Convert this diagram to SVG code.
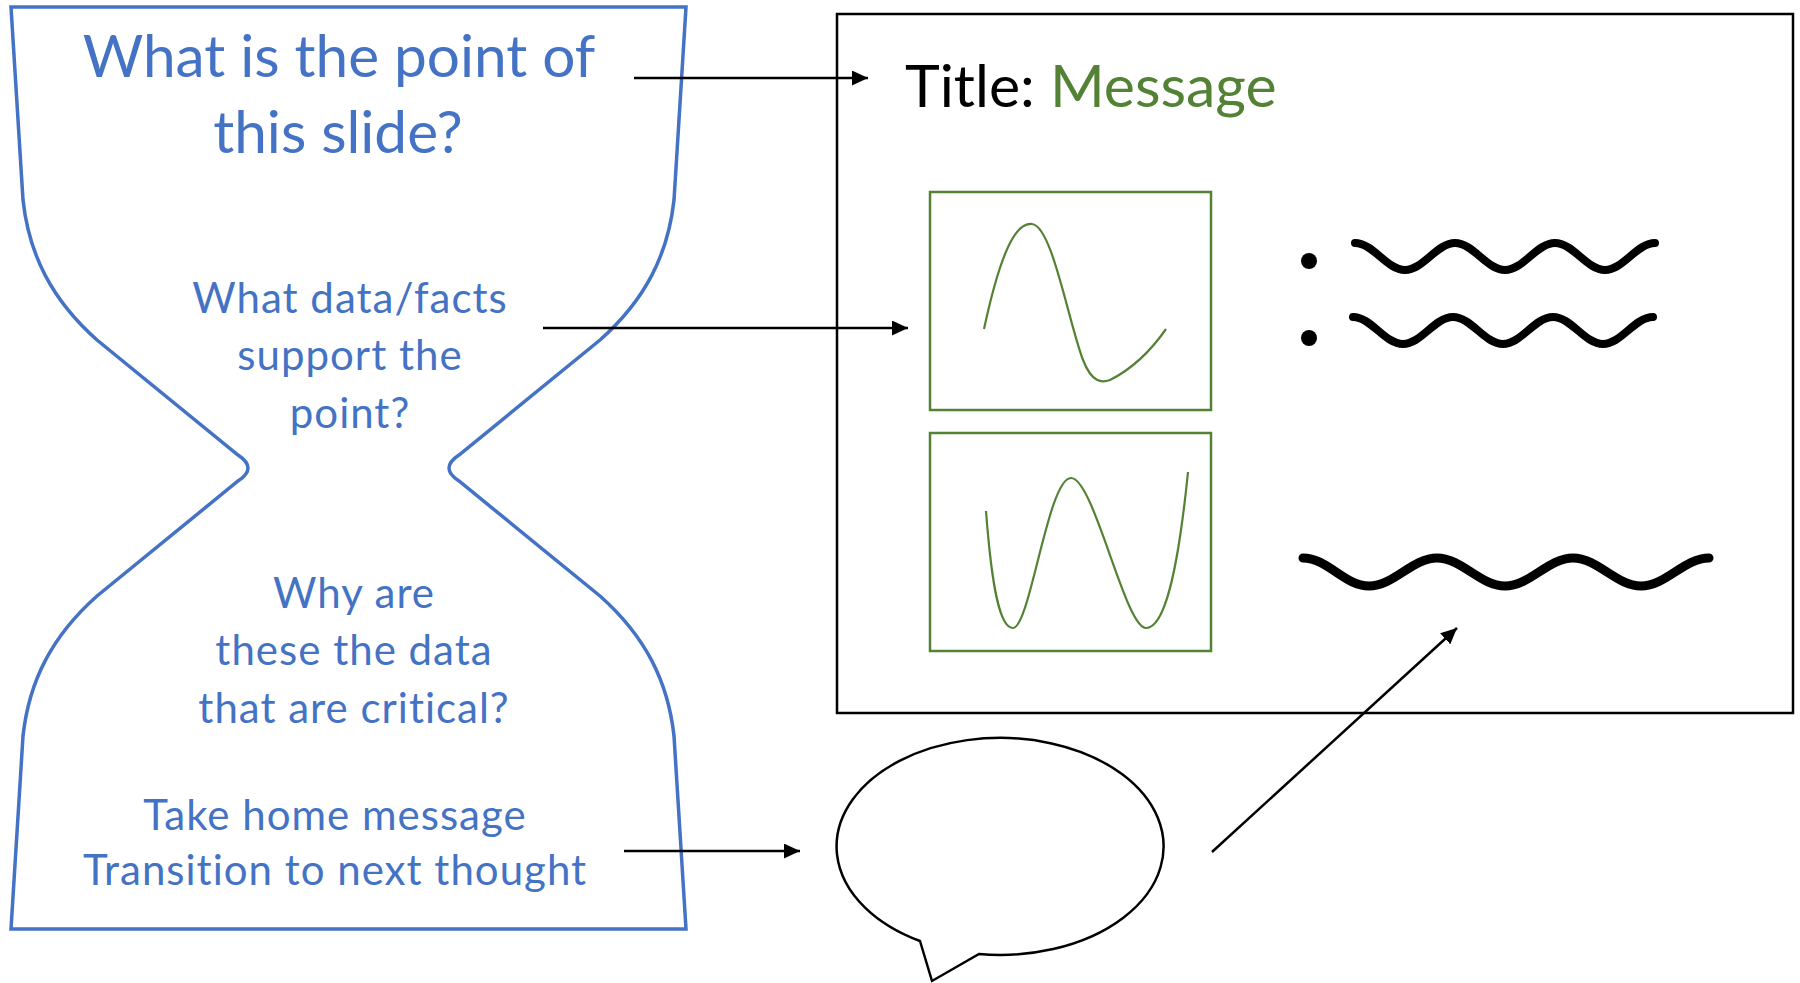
<svg xmlns="http://www.w3.org/2000/svg" width="1800" height="983" viewBox="0 0 1800 983">
  <style>
    .blue { fill: #4472C4; font-family: Lato, "Open Sans", sans-serif; text-anchor: middle; }
    .big { font-size: 58.5px; }
    .small { font-size: 42px; letter-spacing: 1px; }
    .title { font-family: Lato, "Open Sans", sans-serif; font-size: 59px; }
    .conn { stroke: #000; stroke-width: 2.5; fill: none; }
    .gbox { fill: none; stroke: #548235; stroke-width: 2.5; }
    .gcurve { fill: none; stroke: #548235; stroke-width: 2.2; }
    .wave { fill: none; stroke: #000; stroke-width: 8; stroke-linecap: round; }
  </style>
  <defs>
    <marker id="ah" markerUnits="userSpaceOnUse" markerWidth="16" markerHeight="15" refX="16" refY="7.5" orient="auto">
      <path d="M0,0 L16,7.5 L0,15 Z" fill="#000"/>
    </marker>
  </defs>
  <rect width="1800" height="983" fill="#fff"/>

  <g id="hourglass">
    <path d="M 11,7 H 686 L 674,200 C 668,255 645,300 600,340 L 459,455 Q 439,468 459,481 L 600,596 C 645,636 668,681 674,736 L 686,929 H 11 L 23,736 C 29,681 52,636 97,596 L 238,481 Q 258,468 238,455 L 97,340 C 52,300 29,255 23,200 Z" fill="none" stroke="#4472C4" stroke-width="3.5"/>
    <text class="blue big" x="339" y="77">What is the point of</text>
    <text class="blue big" x="338" y="153">this slide?</text>
    <text class="blue small" x="350" y="313">What data/facts</text>
    <text class="blue small" x="350" y="370">support the</text>
    <text class="blue small" x="350" y="428">point?</text>
    <text class="blue small" x="354" y="608">Why are</text>
    <text class="blue small" x="354" y="665">these the data</text>
    <text class="blue small" x="354" y="723">that are critical?</text>
    <text class="blue small" x="335" y="830">Take home message</text>
    <text class="blue small" x="335" y="885">Transition to next thought</text>
  </g>

  <g id="slide">
    <rect x="837" y="14" width="956" height="699" fill="none" stroke="#000" stroke-width="2.5"/>
    <text class="title" x="905" y="107"><tspan fill="#000">Title: </tspan><tspan fill="#548235">Message</tspan></text>
  </g>

  <g id="chart1">
    <rect class="gbox" x="930" y="192" width="281" height="218"/>
    <path class="gcurve" d="M 984,329 C 1000,255 1015,222 1032,224 C 1052,226 1068,320 1083,360 C 1092,383 1102,383 1110,380 C 1130,370 1150,352 1166,329"/>
  </g>

  <g id="chart2">
    <rect class="gbox" x="930" y="433" width="281" height="218"/>
    <path class="gcurve" d="M 986,511 C 992,590 1000,628 1013,628 C 1030,628 1048,478 1071,478 C 1094,478 1125,628 1146,628 C 1165,628 1178,570 1188,472"/>
  </g>

  <g id="bullets">
    <circle cx="1309" cy="261" r="8" fill="#000"/>
    <circle cx="1309" cy="338" r="8" fill="#000"/>
    <path class="wave" d="M 1355,243 C 1373.2,243 1386.8,270 1405,270 S 1436.8,243 1455,243 S 1486.8,270 1505,270 S 1536.8,243 1555,243 S 1586.8,270 1605,270 S 1636.8,243 1655,243"/>
    <path class="wave" d="M 1353,317 C 1371.2,317 1384.8,344 1403,344 S 1434.8,317 1453,317 S 1484.8,344 1503,344 S 1534.8,317 1553,317 S 1584.8,344 1603,344 S 1634.8,317 1653,317"/>
  </g>

  <g id="text-wave">
    <path class="wave" style="stroke-width:9" d="M 1303,558 C 1327.8,558 1344.2,586 1369,586 S 1412.2,558 1437,558 S 1480.2,586 1505,586 S 1548.2,558 1573,558 S 1616.2,586 1641,586 S 1684.2,558 1709,558"/>
  </g>

  <g id="speech-bubble">
    <path d="M 920,941 L 932,981 L 979,954 A 163.5 108.5 0 1 0 920,941 Z" fill="none" stroke="#000" stroke-width="2.5" stroke-linejoin="miter"/>
  </g>

  <g id="connectors">
    <line class="conn" x1="634" y1="78" x2="868" y2="78" marker-end="url(#ah)"/>
    <line class="conn" x1="543" y1="328" x2="908" y2="328" marker-end="url(#ah)"/>
    <line class="conn" x1="624" y1="851" x2="800" y2="851" marker-end="url(#ah)"/>
    <line class="conn" x1="1212" y1="852" x2="1457" y2="628" marker-end="url(#ah)"/>
  </g>
</svg>
